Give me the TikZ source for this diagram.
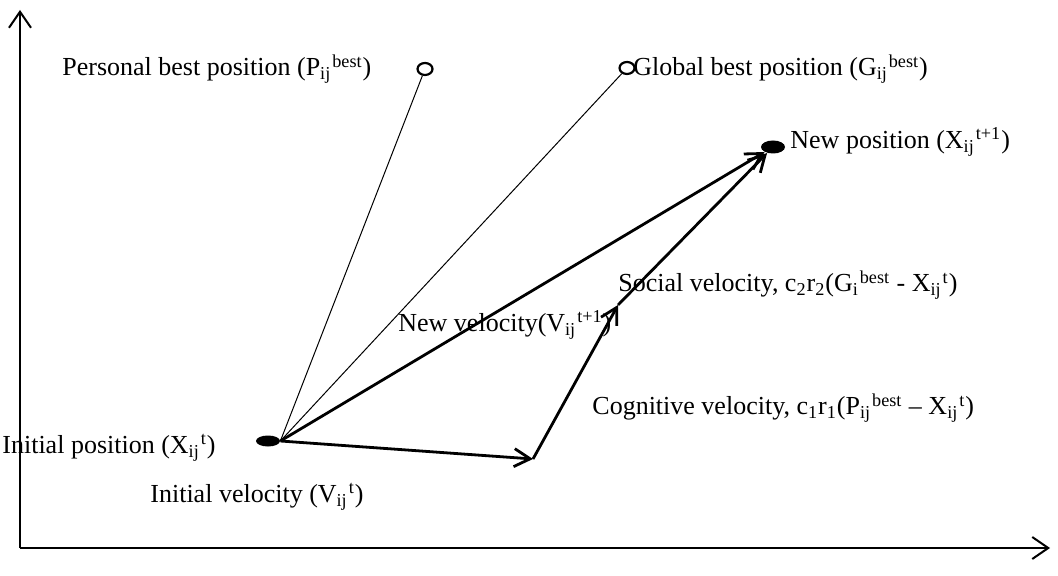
\documentclass[tikz,border=0pt]{standalone}
\usepackage{fontspec}
\setmainfont{Liberation Serif}
\usepackage{tikz}
\usetikzlibrary{positioning,shapes.geometric,arrows.meta,calc}

\newcommand{\sbsp}[2]{\textsubscript{#1}\kern0.5pt\textsuperscript{#2}}

\begin{document}
\begin{tikzpicture}[x=0.5pt,y=-0.5pt,
    every node/.style={font=\fontsize{13pt}{15pt}\selectfont, inner sep=0pt},
    axis/.style={line width=1pt, -{Straight Barb[length=8pt,width=11pt,line width=1pt]}},
    vec/.style={line width=1.4pt, -{Straight Barb[length=8pt,width=9pt,line width=1.4pt]}},
    guide/.style={line width=0.5pt},
    solid pt/.style={ellipse, fill=black, minimum width=12pt, minimum height=5.5pt},
    open pt/.style={ellipse, draw, line width=1.1pt, minimum width=7.5pt, minimum height=6pt},
    lbl/.style={anchor=west}]
    \useasboundingbox (0,0) rectangle (1058,576);

    % Axes
    \coordinate (origin) at (20,548);
    \coordinate (ytop) at (20,10);
    \coordinate (xend) at (1050,548);
    \draw[axis] (origin) -- (ytop);
    \draw[axis] (origin) -- (xend);

    % Positions
    \node[solid pt] (init) at (268,441) {};
    \node[open pt] (pbest) at (425,69) {};
    \node[open pt] (gbest) at (627,68) {};
    \node[solid pt, minimum height=6.5pt] (newpos) at (773,147) {};

    % Corners of the velocity sum
    \coordinate (cog) at (533,459);
    \coordinate (soc) at (618,305);

    % Lines towards the best positions
    \draw[guide] (init.east) -- (pbest);
    \draw[guide] (init.east) -- (gbest);

    % Velocities
    \draw[vec] (init.east) -- (cog);
    \draw[vec] (cog) -- (soc);
    \draw[vec] (soc) -- (newpos);
    \draw[vec] (init.east) -- (newpos);

    % Labels
    \node[lbl] (lpbest) at (62,69) {Personal best position (P\sbsp{ij}{best})};
    \node[lbl] (lgbest) at (633,69) {Global best position (G\sbsp{ij}{best})};
    \node[lbl] (lnew) at (790,142) {New position (X\sbsp{ij}{t+1})};
    \node[lbl] (lsoc) at (618,285) {Social velocity, c\textsubscript{2}r\textsubscript{2}(G\sbsp{i}{best} - X\sbsp{ij}{t})};
    \node[lbl] (lnewv) at (398,325) {New velocity(V\sbsp{ij}{t+1})};
    \node[lbl] (lcog) at (592,408) {Cognitive velocity, c\textsubscript{1}r\textsubscript{1}(P\sbsp{ij}{best} -- X\sbsp{ij}{t})};
    \node[lbl] (linit) at (2,448) {Initial position (X\sbsp{ij}{t})};
    \node[lbl] (linitv) at (150,497) {Initial velocity (V\sbsp{ij}{t})};
\end{tikzpicture}
\end{document}
